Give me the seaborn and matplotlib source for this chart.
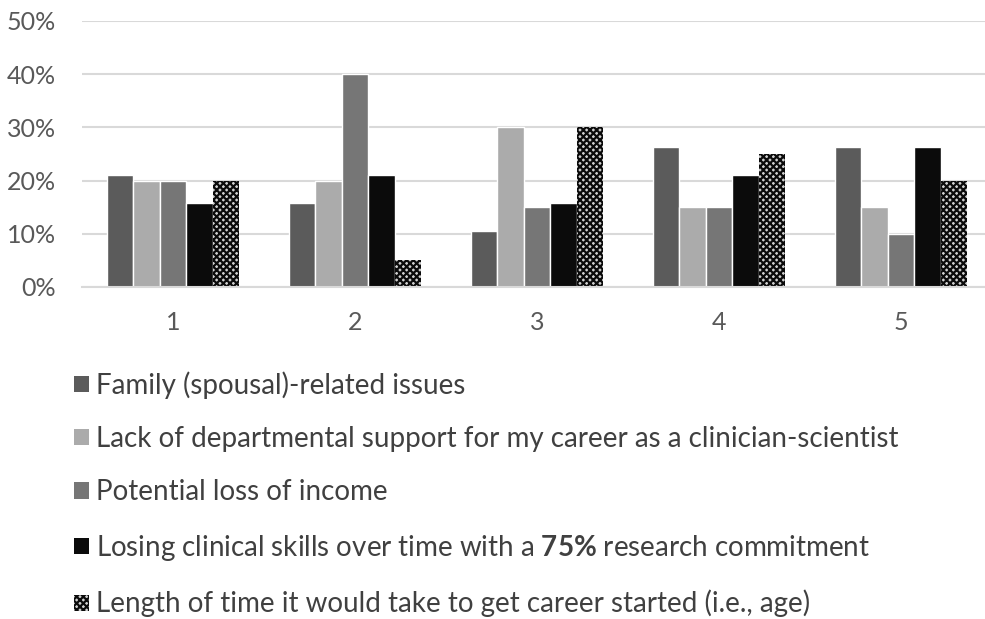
import matplotlib
matplotlib.use("Agg")
import matplotlib.pyplot as plt
import matplotlib.patches as mpatches
import pandas as pd
import seaborn as sns

# Data (percent of respondents per rank)
ranks = ["1", "2", "3", "4", "5"]
series = [
    "Family (spousal)-related issues",
    "Lack of departmental support for my career as a clinician-scientist",
    "Potential loss of income",
    "Losing clinical skills over time with a $\\mathbf{75\\%}$ research commitment",
    "Length of time it would take to get career started (i.e., age)",
]
family = [21.05, 15.79, 10.53, 26.32, 26.32]
support = [20, 20, 30, 15, 15]
income = [20, 40, 15, 15, 10]
clinical = [15.79, 21.05, 15.79, 21.05, 26.32]
age = [20, 5, 30, 25, 20]
colors = ["#5b5b5b", "#ababab", "#767676", "#0b0b0b", "#d0d0d0"]
yticks = [0, 10, 20, 30, 40, 50]

rows = []
for name, vals in zip(series, [family, support, income, clinical, age]):
    for r, v in zip(ranks, vals):
        rows.append({"rank": r, "series": name, "value": v})
df = pd.DataFrame(rows)

sns.set_style("white")
plt.rcParams["font.family"] = ["Lato", "DejaVu Sans"]
plt.rcParams["mathtext.fontset"] = "custom"
plt.rcParams["mathtext.bf"] = "Lato:bold"
plt.rcParams["hatch.linewidth"] = 1.6

fig = plt.figure(figsize=(9.85, 6.19), dpi=100)
ax = fig.add_axes([82 / 985, 1 - 287 / 619, 910 / 985, 266 / 619])

sns.barplot(data=df, x="rank", y="value", hue="series", palette=colors,
            width=0.73, saturation=1, legend=False, ax=ax)

# checkerboard-ish fill for the last series
for bar in ax.containers[4]:
    bar.set_facecolor(colors[4])
    bar.set_hatch("xxxxx")
    bar.set_edgecolor("#0b0b0b")
    bar.set_linewidth(0)

ax.set_ylim(0, 50)
ax.set_yticks(yticks)
ax.set_yticklabels([f"{t}%" for t in yticks])
ax.set_xlabel("")
ax.set_ylabel("")
ax.yaxis.grid(True, color="#d9d9d9", linewidth=1.5)
ax.set_axisbelow(True)
for s in ["top", "right", "left"]:
    ax.spines[s].set_visible(False)
ax.spines["bottom"].set_color("#d9d9d9")
ax.spines["bottom"].set_linewidth(1.5)
ax.tick_params(axis="y", length=0, pad=19, labelsize=18, labelcolor="#595959")
ax.tick_params(axis="x", length=0, pad=17, labelsize=18, labelcolor="#595959")

handles = []
for i, name in enumerate(series):
    if i == 4:
        h = mpatches.Patch(facecolor=colors[4], hatch="xxxxx", edgecolor="#0b0b0b", linewidth=0)
    else:
        h = mpatches.Patch(facecolor=colors[i], edgecolor="none")
    handles.append(h)

fig.legend(handles, series, loc="upper left", bbox_to_anchor=(0.064, 0.418),
           frameon=False, fontsize=20, labelcolor="#404040",
           handlelength=0.52, handleheight=0.52, handletextpad=0.25,
           labelspacing=0.98, borderaxespad=0)

fig.savefig("out.png", dpi=100)
